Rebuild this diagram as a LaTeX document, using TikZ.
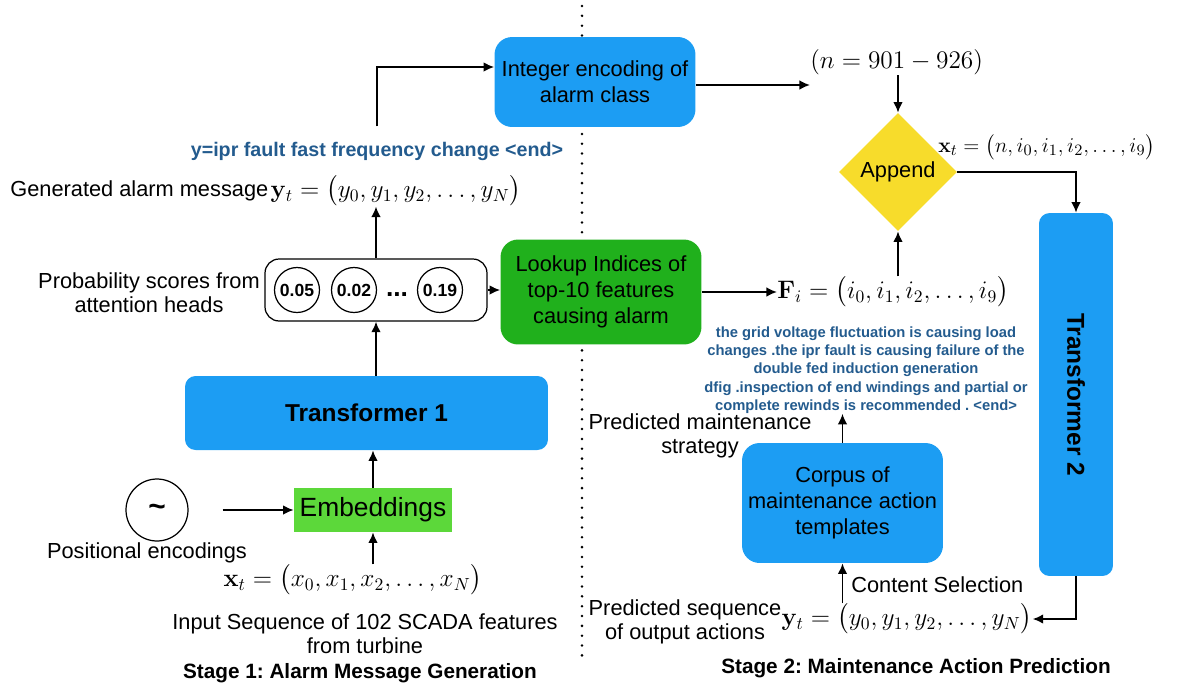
\documentclass[tikz,border=0pt]{standalone}
\usepackage{amsmath}
\usepackage[no-math]{fontspec}
\setmainfont{Liberation Sans}
\usepackage{tikz}
\usetikzlibrary{shapes.geometric,arrows.meta,positioning}
\frenchspacing
\definecolor{BoxBlue}{HTML}{1C9DF3}
\definecolor{LookGreen}{HTML}{20B01C}
\definecolor{EmbGreen}{HTML}{5CD83A}
\definecolor{AppYellow}{HTML}{F7DC2B}
\definecolor{NoteBlue}{HTML}{235B8E}
\newcommand{\lbfont}{\fontsize{12.4}{13.8}\selectfont}
\newcommand{\bxfont}{\fontsize{12.4}{15}\selectfont}
\newcommand{\tffont}{\fontsize{13.9}{16}\selectfont\bfseries}
\newcommand{\embfont}{\fontsize{15}{18}\selectfont}
\newcommand{\eqfont}{\fontsize{14}{17}\selectfont}
\newcommand{\ntfont}{\fontsize{8.4}{10.4}\selectfont\bfseries}
\newcommand{\ipfont}{\fontsize{11.2}{13}\selectfont\bfseries}
\newcommand{\ttlfont}{\fontsize{11.8}{14}\selectfont\bfseries}
\newcommand{\ringfont}{\fontsize{10}{12}\selectfont\bfseries}
\tikzset{
  BX/.style={rectangle,rounded corners=10pt,inner sep=0pt,
             align=center,font=\bxfont},
  bB/.style={BX,fill=BoxBlue},
  bG/.style={BX,fill=LookGreen},
  eG/.style={rectangle,fill=EmbGreen,inner sep=0pt,font=\embfont},
  dY/.style={diamond,aspect=1,fill=AppYellow,inner sep=0pt,font=\bxfont},
  RG/.style={circle,draw,line width=0.7pt,inner sep=0pt,font=\ringfont},
  LB/.style={align=center,font=\lbfont,inner sep=0pt},
  EQ/.style={font=\eqfont,inner sep=0pt},
  NT/.style={align=center,font=\ntfont,text=NoteBlue,inner sep=0pt},
  TL/.style={font=\ttlfont,inner sep=0pt},
  arr/.style={-{Latex[length=6pt,width=5.5pt]},line width=1.1pt}
}

\begin{document}
\begin{tikzpicture}[x=0.02cm,y=-0.02cm]
  \useasboundingbox (0,0) rectangle (1178,684);
  % stage divider
  \coordinate (divtop) at (582,6);
  \coordinate (divbot) at (582,658);
  \draw[line width=1.6pt,line cap=round,dash pattern=on 0pt off 5.6pt] (divtop)--(divbot);

  % stage 1
  \node[RG,minimum size=1.24cm,font=\fontsize{17}{17}\selectfont\bfseries] (posring) at (157,510) {\raisebox{-2pt}{\textasciitilde}};
  \node[LB] (poslbl) at (147,553) {Positional encodings};
  \node[eG,minimum width=3.16cm,minimum height=0.88cm] (embed) at (373,510) {Embeddings};
  \node[EQ] (inxt) at (353,580) {$\mathbf{x}_t = \bigl(x_0, x_1, x_2, \ldots, x_N\bigr)$};
  \node[LB] (inlbl) at (365,634) {Input Sequence of 102 SCADA features\\from turbine};
  \node[TL] (stage1) at (360,673) {Stage 1: Alarm Message Generation};
  \node[bB,rounded corners=6pt,minimum width=7.26cm,minimum height=1.48cm,font=\tffont] (tf1) at (366.5,413) {Transformer 1};
  \node[draw,rectangle,rounded corners=8pt,line width=0.7pt,minimum width=4.44cm,minimum height=1.24cm] (probs) at (376,290) {};
  \node[RG,minimum size=0.9cm] (p1) at (297,290) {0.05};
  \node[RG,minimum size=0.9cm] (p2) at (354,290) {0.02};
  \node[RG,minimum size=0.9cm] (p3) at (440,290) {0.19};
  \node[font=\fontsize{15}{15}\selectfont\bfseries,inner sep=0pt] (pdots) at (397,295) {...};
  \node[LB] (problbl) at (149,293) {Probability scores from\\attention heads};
  \node[LB,anchor=west] (genlbl) at (10,191) {Generated alarm message};
  \node[EQ,right=1pt of genlbl] (genyt) {$\mathbf{y}_t = \bigl(y_0, y_1, y_2, \ldots, y_N\bigr)$};
  \node[NT,font=\ipfont] (ipr) at (377,151) {y=ipr fault fast frequency change <end>};

  % middle
  \node[bB,minimum width=4.02cm,minimum height=1.8cm] (intenc) at (595,82) {Integer encoding of\\alarm class};
  \node[bG,minimum width=4.02cm,minimum height=2.1cm] (lookup) at (601,292) {Lookup Indices of\\top-10 features\\causing alarm};

  % stage 2
  \node[EQ,anchor=west] (nrange) at (810,62) {$(n = 901 - 926)$};
  \node[dY,minimum width=2.36cm,minimum height=2.36cm] (append) at (898,172) {Append};
  \node[EQ,anchor=west,font=\fontsize{12.4}{15}\selectfont] (xvec) at (938,147) {$\mathbf{x}_t = \bigl(n, i_0, i_1, i_2, \ldots, i_9\bigr)$};
  \node[EQ,anchor=west] (fvec) at (777,292) {$\mathbf{F}_i = \bigl(i_0, i_1, i_2, \ldots, i_9\bigr)$};
  \node[bB,rounded corners=6pt,minimum width=1.48cm,minimum height=7.26cm] (tf2) at (1076,394.5) {};
  \node[font=\tffont,rotate=-90] (tf2lbl) at (tf2) {Transformer 2};
  \node[NT] (note) at (866,370) {the grid voltage fluctuation is causing load\\changes .the ipr fault is causing failure of the\\double fed induction generation\\dfig .inspection of end windings and partial or\\complete rewinds is recommended . <end>};
  \node[LB] (stratlbl) at (700,436) {Predicted maintenance\\strategy};
  \node[bB,minimum width=4.02cm,minimum height=2.4cm] (corpus) at (842.5,503) {Corpus of\\maintenance action\\templates};
  \node[LB,anchor=west] (cslbl) at (851,585) {Content Selection};
  \node[EQ] (outyt) at (907,619) {$\mathbf{y}_t = \bigl(y_0, y_1, y_2, \ldots, y_N\bigr)$};
  \node[LB] (seqlbl) at (685,622) {Predicted sequence\\of output actions};
  \node[TL] (stage2) at (916,668) {Stage 2: Maintenance Action Prediction};

  \draw[arr]([xshift=0.68cm]posring.east)--(embed.west);
  \draw[arr](inxt.north -| embed.south)--(embed.south);
  \draw[arr](embed.north)--(embed.north |- tf1.south);
  \draw[arr](probs.south |- tf1.north)--(probs.south);
  \draw[arr](probs.north)--(probs.north |- genyt.south);
  \draw[arr]([yshift=0.3cm]ipr.north) |- ([yshift=0.3cm]intenc.west);
  \draw[arr](probs.east)--(probs.east -| lookup.west);
  \draw[arr](lookup.east)--(fvec.west);
  \draw[arr]([yshift=-0.06cm]intenc.east)--([yshift=-0.06cm]intenc.east -| nrange.west);
  \draw[arr](nrange.south -| append.north)--(append.north);
  \draw[arr](fvec.north -| append.south)--(append.south);
  \draw[arr](append.east) -| (tf2.north);
  \draw[arr](tf2.south) |- (outyt.east);
  \draw[arr](outyt.north -| corpus.south)--(corpus.south);
  \draw[arr](corpus.north)--(corpus.north |- note.south);
\end{tikzpicture}
\end{document}
